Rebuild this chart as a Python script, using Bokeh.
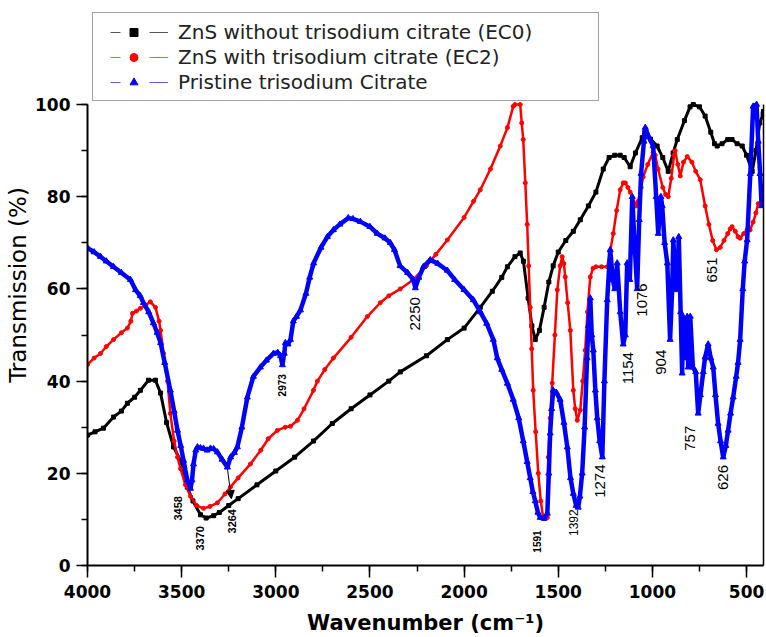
import math
from bokeh.plotting import figure
from bokeh.models import (Range1d, SingleIntervalTicker, FixedTicker, Legend, LegendItem, Label,
                          LinearAxis, Arrow, NormalHead)
from bokeh.embed import file_html
from bokeh.resources import INLINE

# ---------------- data ----------------
ec0_wn = [4000, 3960, 3915, 3862, 3820, 3788, 3750, 3719, 3676, 3639, 3612, 3580, 3543, 3506,
          3470, 3440, 3400, 3370, 3330, 3300, 3250, 3200, 3100, 3000, 2900, 2800, 2700, 2600,
          2500, 2400, 2339, 2200, 2089, 2000, 1914, 1850, 1800, 1770, 1730, 1702, 1685, 1660,
          1640, 1622, 1600, 1575, 1550, 1527, 1500, 1460, 1420, 1383, 1340, 1300, 1261, 1230,
          1200, 1171, 1150, 1118, 1090, 1054, 1040, 1010, 975, 945, 916, 890, 868, 830, 800,
          783, 750, 720, 690, 670, 656, 630, 600, 577, 550, 523, 500, 470, 450, 430, 412, 410]
ec0_t = [28.3, 29.0, 29.8, 32.2, 33.5, 35.2, 36.5, 38.0, 40.2, 40.2, 37.4, 31.0, 25.7, 22.8,
         17.0, 14.0, 11.0, 10.3, 10.8, 11.5, 13.0, 14.5, 17.5, 20.5, 23.5, 27.0, 30.8, 34.0,
         37.0, 40.0, 42.0, 45.5, 49.0, 51.5, 56.0, 59.5, 62.5, 64.8, 67.0, 67.8, 66.0, 58.0,
         52.0, 49.0, 51.0, 56.0, 61.5, 65.0, 68.0, 70.5, 72.5, 75.0, 78.0, 81.0, 86.0, 88.5,
         89.0, 89.0, 88.5, 86.5, 89.5, 92.8, 94.0, 92.5, 91.0, 88.5, 85.5, 89.5, 92.4, 96.5, 99.5,
         100.0, 99.5, 97.5, 94.0, 91.5, 91.0, 91.5, 92.4, 92.4, 91.5, 91.0, 89.0, 85.5, 90.0, 96.0, 98.0, 98.5]

ec2_wn = [4000, 3965, 3931, 3900, 3862, 3820, 3788, 3770, 3761, 3740, 3719, 3690, 3666, 3639,
          3620, 3612, 3596, 3575, 3560, 3540, 3522, 3506, 3480, 3453, 3420, 3384, 3350, 3310,
          3270, 3241, 3200, 3135, 3080, 3040, 2992, 2950, 2922, 2885, 2850, 2800, 2779, 2740,
          2694, 2600, 2514, 2445, 2400, 2339, 2270, 2200, 2150, 2089, 2000, 1950, 1914, 1860,
          1808, 1770, 1739, 1730, 1702, 1694, 1686, 1675, 1665, 1657, 1649, 1641, 1633, 1620,
          1606, 1593, 1580, 1570, 1558, 1553, 1543, 1532, 1518, 1505, 1490, 1479, 1470, 1463,
          1450, 1436, 1420, 1410, 1399, 1383, 1370, 1357, 1345, 1330, 1315, 1300, 1270, 1240,
          1225, 1208, 1190, 1171, 1155, 1144, 1130, 1118, 1100, 1086, 1076, 1060, 1049, 1025,
          996, 985, 970, 945, 930, 916, 900, 885, 879, 865, 852, 835, 815, 790, 770, 746, 720,
          700, 680, 660, 640, 620, 600, 587, 577, 560, 545, 534, 515, 497, 481, 465, 450, 438,
          417, 410]
ec2_t = [43.6, 45.0, 46.0, 47.5, 49.0, 50.5, 51.5, 53.0, 54.7, 55.2, 55.8, 56.5, 57.2, 56.0,
         53.0, 51.0, 46.0, 40.0, 33.0, 27.0, 23.5, 21.0, 17.5, 15.0, 13.0, 12.4, 12.8, 13.6,
         15.5, 17.0, 19.0, 22.0, 25.0, 27.5, 29.3, 30.0, 30.2, 31.5, 34.0, 38.0, 40.0, 42.5,
         45.0, 49.5, 54.0, 57.0, 58.5, 60.0, 62.0, 65.0, 67.5, 70.6, 75.5, 79.0, 81.5, 86.0,
         91.0, 95.0, 99.6, 100.0, 100.0, 96.0, 92.4, 83.0, 74.0, 65.0, 56.0, 47.0, 38.0, 29.0,
         20.0, 14.0, 10.4, 10.2, 10.4, 23.5, 32.0, 39.6, 50.0, 59.8, 65.0, 67.0, 65.5, 62.6,
         57.0, 51.0, 38.0, 34.0, 31.5, 33.7, 40.0, 46.7, 55.0, 62.6, 64.5, 64.8, 64.8, 64.8,
         68.0, 72.0, 77.0, 81.5, 83.0, 83.0, 82.0, 81.0, 78.7, 78.0, 79.0, 82.0, 84.3, 87.0,
         89.6, 89.0, 86.0, 82.0, 80.5, 80.0, 84.0, 89.0, 90.0, 87.0, 84.5, 87.5, 88.7, 87.5, 85.5, 83.7, 78.0,
         74.0, 70.5, 68.5, 69.0, 70.5, 72.0, 73.0, 73.5, 72.5, 71.3, 71.0, 72.0, 72.8, 72.8, 74.5, 76.5, 78.5,
         79.0, 79.5]

cit_wn = [4000, 3965, 3931, 3900, 3862, 3820, 3772, 3745, 3720, 3703, 3675, 3650, 3630, 3612,
          3590, 3560, 3540, 3522, 3505, 3490, 3470, 3453, 3445, 3437, 3425, 3416, 3400, 3384,
          3365, 3347, 3330, 3310, 3285, 3257, 3240, 3220, 3204, 3180, 3151, 3119, 3082, 3050,
          3012, 2990, 2975, 2965, 2955, 2949, 2935, 2922, 2907, 2890, 2869, 2840, 2820, 2799,
          2760, 2726, 2694, 2660, 2615, 2590, 2551, 2500, 2461, 2420, 2392, 2370, 2340, 2300,
          2270, 2259, 2240, 2216, 2180, 2140, 2089, 2050, 2000, 1951, 1914, 1880, 1845, 1824,
          1800, 1770, 1739, 1710, 1686, 1665, 1649, 1635, 1622, 1608, 1596, 1575, 1558, 1550,
          1543, 1535, 1527, 1510, 1490, 1470, 1452, 1435, 1420, 1405, 1394, 1385, 1373, 1360,
          1347, 1340, 1330, 1322, 1314, 1303, 1293, 1280, 1266, 1255, 1240, 1224, 1210, 1200,
          1187, 1171, 1155, 1144, 1134, 1120, 1107, 1095, 1081, 1070, 1060, 1045, 1038, 1020,
          996, 980, 969, 955, 948, 935, 921, 906, 895, 889, 875, 868, 860, 850, 842, 837, 825,
          815, 810, 799, 785, 770, 757, 745, 730, 720, 704, 690, 677, 665, 651, 638, 624, 610,
          598, 585, 571, 555, 545, 534, 520, 510, 497, 480, 465, 447, 438, 428, 420, 410]
cit_t = [68.9, 68.0, 67.0, 66.0, 64.8, 63.5, 62.0, 59.8, 58.5, 57.0, 55.0, 52.6, 50.5, 48.3,
         44.0, 38.0, 33.5, 29.3, 26.0, 22.8, 18.5, 16.7, 18.5, 22.0, 25.0, 25.7, 25.5, 25.4,
         25.0, 25.4, 25.3, 24.6, 23.0, 21.3, 23.5, 24.5, 25.7, 30.0, 36.5, 41.0, 43.0, 44.5,
         46.0, 46.2, 45.5, 43.5, 46.0, 48.3, 48.0, 49.0, 53.0, 54.0, 55.4, 59.0, 62.5, 65.6,
         69.0, 71.3, 72.8, 74.0, 75.4, 75.2, 74.6, 73.5, 72.0, 71.0, 70.0, 68.5, 65.0, 63.5,
         62.0, 60.2, 62.5, 64.8, 66.3, 65.5, 64.0, 62.0, 59.8, 57.6, 55.0, 52.5, 49.0, 45.0,
         42.5, 39.5, 36.0, 32.0, 27.0, 22.5, 19.0, 16.0, 14.0, 11.5, 10.4, 10.2, 11.3, 20.0,
         28.7, 34.0, 38.0, 37.5, 36.0, 31.0, 25.7, 19.0, 15.6, 13.0, 12.6, 15.0, 20.0, 30.0,
         45.0, 52.0, 58.0, 50.0, 46.7, 38.0, 32.0, 27.0, 23.5, 40.0, 57.6, 68.5, 62.0, 60.0,
         65.6, 55.0, 48.0, 50.0, 65.6, 62.0, 80.0, 70.0, 60.0, 75.0, 85.0, 92.0, 95.0, 93.0,
         91.0, 80.0, 72.0, 80.0, 78.0, 70.0, 65.6, 49.0, 60.0, 70.6, 60.0, 59.8, 71.3, 55.0, 41.7, 54.0, 45.0,
         54.0, 43.0, 54.0, 43.0, 42.0, 33.0, 37.0, 42.0, 45.2, 48.0, 45.0, 43.0, 37.0, 30.8, 27.0, 23.5, 26.0,
         29.3, 33.0, 36.5, 41.0, 44.0, 49.0, 60.0, 66.0, 70.6, 85.0, 99.6, 100.0, 92.0, 85.0, 78.0, 82.0]

series_labels = ["ZnS without trisodium citrate (EC0)",
                 "ZnS with trisodium citrate (EC2)",
                 "Pristine trisodium Citrate"]

# peak annotations: text, x (cm-1), y (%), font size px, bold
peak_labels = [("3458", 3517, 12.4, 11, True), ("3370", 3400, 5.9, 11, True),
               ("3264", 3230, 9.6, 11, True), ("2973", 2965, 39.1, 10, True),
               ("2250", 2259, 54.6, 15, False), ("1591", 1611, 5.2, 10, True),
               ("1392", 1420, 9.3, 12, False), ("1274", 1277, 18.3, 15, False),
               ("1154", 1128, 42.8, 15, False), ("1076", 1054, 57.6, 15, False),
               ("904", 953, 44.1, 15, False), ("757", 799, 27.6, 15, False),
               ("626", 624, 19.1, 15, False), ("651", 683, 64.1, 15, False)]

# ---------------- figure ----------------
# plot area extends above 100 % so the legend sits inside it; axes are bounded to 0..100
p = figure(width=766, height=637, output_backend="svg", toolbar_location=None,
           x_range=Range1d(4000, 410), y_range=Range1d(0, 121.7),
           min_border_left=87, min_border_right=3, min_border_top=4, min_border_bottom=72)
p.outline_line_color = None
p.xgrid.visible = False
p.ygrid.visible = False
p.background_fill_color = "white"

for ax in (p.xaxis[0], p.yaxis[0]):
    ax.axis_line_width = 2
    ax.axis_line_color = "black"
    ax.major_tick_line_width = 1.5
    ax.minor_tick_line_width = 1.5
    ax.major_tick_in = 0
    ax.minor_tick_in = 0
    ax.minor_tick_out = 6
    ax.major_label_text_font = "DejaVu Sans"
    ax.major_label_text_font_size = "17px"
    ax.major_label_text_font_style = "bold"
    ax.major_label_text_color = "black"

p.xaxis.ticker = SingleIntervalTicker(interval=500, num_minor_ticks=2)
p.yaxis.ticker = SingleIntervalTicker(interval=20, num_minor_ticks=2)
p.yaxis.bounds = (0, 100)
p.xaxis.major_tick_out = 12
p.yaxis.major_tick_out = 11
p.xaxis.major_label_standoff = 7
p.yaxis.major_label_standoff = 6
p.xaxis.axis_label = "Wavenumber (cm\u207b\u00b9)"
p.xaxis.axis_label_text_font = "DejaVu Sans"
p.xaxis.axis_label_text_font_size = "21px"
p.xaxis.axis_label_text_font_style = "bold"
p.xaxis.axis_label_text_color = "black"
p.xaxis.axis_label_standoff = 10
p.yaxis.axis_label = "Transmission (%)"
p.yaxis.axis_label_text_font = "DejaVu Sans"
p.yaxis.axis_label_text_font_size = "23px"
p.yaxis.axis_label_text_font_style = "normal"
p.yaxis.axis_label_text_color = "black"
p.yaxis.axis_label_standoff = 1

# right frame line (an axis without ticks, bounded to 0..100)
p.add_layout(LinearAxis(bounds=(0, 100), ticker=FixedTicker(ticks=[]),
                        axis_line_width=1.5, axis_line_color="black",
                        major_tick_in=0, major_tick_out=0, minor_tick_in=0, minor_tick_out=0,
                        major_label_standoff=0), "right")

# curves
p.line(ec0_wn, ec0_t, line_color="black", line_width=3)
p.scatter(ec0_wn, ec0_t, marker="square", size=4, color="black")
p.line(ec2_wn, ec2_t, line_color="#ff0000", line_width=2.5)
p.scatter(ec2_wn, ec2_t, marker="circle", size=4, color="#ff0000")
p.line(cit_wn, cit_t, line_color="#0000ff", line_width=4.5)
p.scatter(cit_wn, cit_t, marker="triangle", size=6, color="#0000ff")

# legend-only (hidden) renderers styled like the original legend keys
items = []
for lab, wn, tt, lc, mc, mk, ms in zip(series_labels,
                                       [ec0_wn, ec2_wn, cit_wn], [ec0_t, ec2_t, cit_t],
                                       ["#555555", "#ff5a5a", "#5a5aff"],
                                       ["black", "#ff0000", "#0000ff"],
                                       ["square", "circle", "triangle"],
                                       [4, 4, 5]):
    lr = p.line(wn, tt, line_color=lc, line_width=1.2,
                line_dash="10 29 19 11", line_dash_offset=58, visible=False)
    sr = p.scatter(wn, tt, marker=mk, size=ms, color=mc, visible=False)
    items.append(LegendItem(label=lab, renderers=[lr, sr]))

legend = Legend(items=items, location=(5, 464), orientation="vertical",
                label_text_font="DejaVu Sans", label_text_font_size="20px",
                label_text_color="#222222", label_width=414, label_height=25,
                glyph_width=69, glyph_height=20, spacing=0, padding=6, margin=0,
                label_standoff=10, border_line_color="#444444", border_line_width=1.5,
                background_fill_color="white", background_fill_alpha=1.0,
                inactive_fill_alpha=0.0)
p.add_layout(legend)

# peak annotations
for txt, xx, yy, fs, bold in peak_labels:
    p.add_layout(Label(x=xx, y=yy, text=txt, angle=math.pi / 2,
                       text_align="center", text_baseline="middle",
                       text_font="Liberation Sans", text_font_size=f"{fs}px",
                       text_font_style="bold" if bold else "normal", text_color="black"))

p.add_layout(Arrow(end=NormalHead(size=8, fill_color="black", line_color="black"),
                   x_start=3257, y_start=21.0, x_end=3236, y_end=14.5,
                   line_color="black", line_width=1))

open("out.html", "w").write(file_html(p, INLINE))
